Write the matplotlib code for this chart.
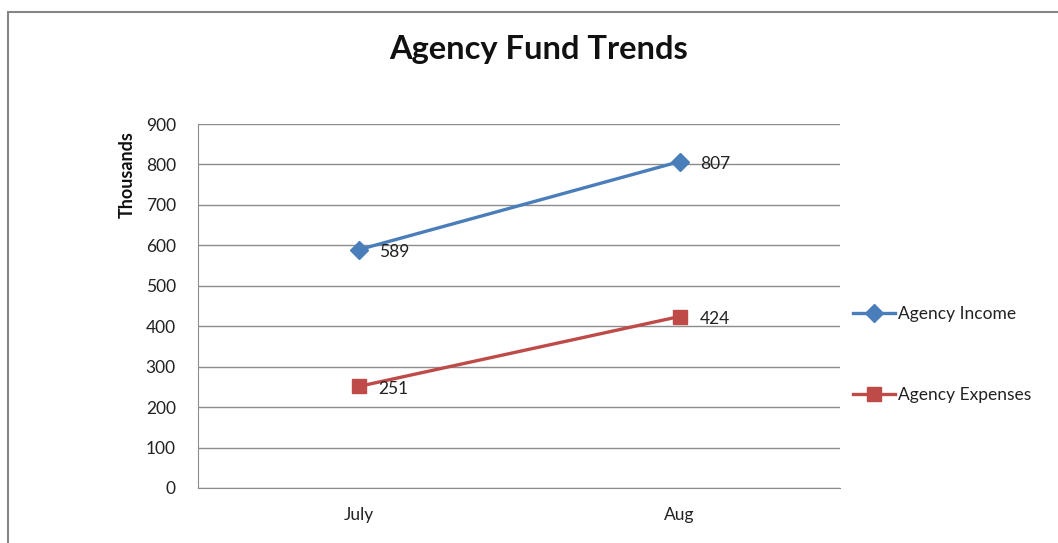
import matplotlib
matplotlib.use("Agg")
import matplotlib.pyplot as plt
from matplotlib.patches import Rectangle

categories = ["July", "Aug"]
income = [589, 807]
expenses = [251, 424]
series_names = ["Agency Income", "Agency Expenses"]
yticks = [0, 100, 200, 300, 400, 500, 600, 700, 800, 900]

plt.rcParams['font.family'] = ['Lato', 'DejaVu Sans']

W, H = 1058, 543
fig = plt.figure(figsize=(W / 100, H / 100), dpi=100)
fig.patch.set_facecolor("white")

# outer chart border
fig.add_artist(Rectangle((8 / W, -0.05), 1.2, (H - 12) / H + 0.05, transform=fig.transFigure,
                         fill=False, edgecolor="#868686", linewidth=1.5))

ax = fig.add_axes([198 / W, (H - 488) / H, (840 - 198) / W, (488 - 124) / H])
x = list(range(len(categories)))

blue = "#4A7EBB"
red = "#BE4B48"
ax.plot(x, income, color=blue, linewidth=2.4, marker="D", markersize=9, label=series_names[0], zorder=3)
ax.plot(x, expenses, color=red, linewidth=2.4, marker="s", markersize=9.5, label=series_names[1], zorder=3)

for xi, v in zip(x, income):
    ax.annotate(str(v), (xi, v), xytext=(14.5, -1.5), textcoords="offset points",
                fontsize=12.5, color="#222222", va="center", ha="left")
for xi, v in zip(x, expenses):
    ax.annotate(str(v), (xi, v), xytext=(14.5, -1.5), textcoords="offset points",
                fontsize=12.5, color="#222222", va="center", ha="left")

ax.set_xlim(-0.5, len(categories) - 0.5)
ax.set_ylim(0, 900)
ax.set_yticks(yticks)
ax.set_xticks(x)
ax.set_xticklabels(categories)
ax.grid(axis="y", color="#8c8c8c", linewidth=1)
ax.set_axisbelow(True)
for s in ["top", "right"]:
    ax.spines[s].set_visible(False)
for s in ["left", "bottom"]:
    ax.spines[s].set_color("#8c8c8c")
ax.tick_params(axis="both", length=0, labelsize=12.5, colors="#222222")
ax.tick_params(axis="y", pad=16)
ax.tick_params(axis="x", pad=14)

fig.text(127 / W, 1 - 175 / H, "Thousands", rotation=90, fontsize=13, fontweight="bold",
         ha="center", va="center", color="#111111")
fig.text(539 / W, 1 - 50 / H, "Agency Fund Trends", fontsize=23.5, fontweight="bold",
         ha="center", va="center", color="#111111")

leg = ax.legend(loc="upper left", bbox_to_anchor=(853 / W, 1 - 306 / H), bbox_transform=fig.transFigure,
                frameon=False, fontsize=12.5, labelspacing=3.75, handlelength=2.4, handletextpad=0.2,
                borderaxespad=0, borderpad=0)
for t in leg.get_texts():
    t.set_color("#222222")

fig.savefig("out.png", dpi=100, facecolor="white")
